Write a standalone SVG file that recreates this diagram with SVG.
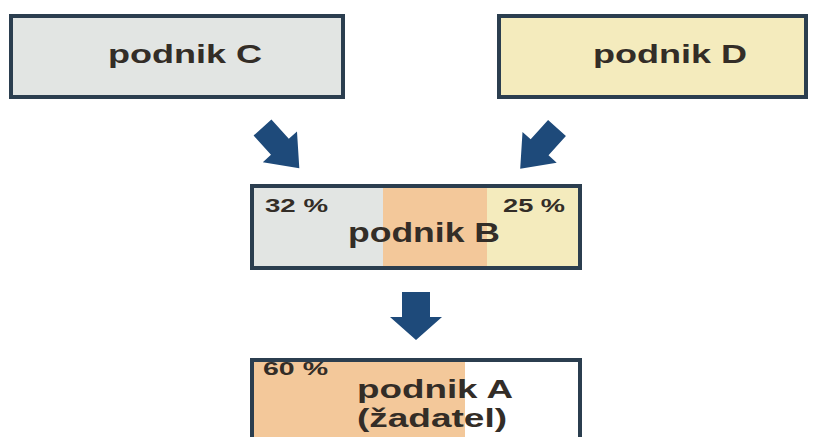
<svg xmlns="http://www.w3.org/2000/svg" width="820" height="437" viewBox="0 0 820 437">
<defs>
<style>
.box{stroke:#2b3e4f;stroke-width:4;}
.t{font-family:"Liberation Sans",Arial,sans-serif;font-weight:bold;fill:#332d27;}
.arrow{fill:#1e4a7a;}
</style>
<path id="diag" d="M-12,0 L12,0 L12,26 L23,26 L0,55 L-23,26 L-12,26 Z"/>
</defs>
<rect width="820" height="437" fill="#ffffff"/>
<g id="nodeC">
<rect class="box" x="11" y="16" width="332" height="81" fill="#e2e5e3"/>
<text class="t" x="108" y="63" font-size="25" textLength="154" lengthAdjust="spacingAndGlyphs">podnik C</text>
</g>
<g id="nodeD">
<rect class="box" x="499" y="16" width="307" height="81" fill="#f4ebbd"/>
<text class="t" x="593" y="63" font-size="25" textLength="154" lengthAdjust="spacingAndGlyphs">podnik D</text>
</g>
<g id="nodeB">
<rect x="252" y="186" width="131" height="82" fill="#e2e5e3"/>
<rect x="383" y="186" width="104" height="82" fill="#f3c89a"/>
<rect x="487" y="186" width="93" height="82" fill="#f4ebbd"/>
<rect class="box" x="252" y="186" width="328" height="82" fill="none"/>
<text class="t" x="265" y="212" font-size="18" textLength="63" lengthAdjust="spacingAndGlyphs">32 %</text>
<text class="t" x="503" y="212" font-size="18" textLength="62" lengthAdjust="spacingAndGlyphs">25 %</text>
<text class="t" x="348" y="242" font-size="27" textLength="152" lengthAdjust="spacingAndGlyphs">podnik B</text>
</g>
<g id="nodeA">
<rect x="252" y="360" width="213" height="90" fill="#f3c89a"/>
<rect x="465" y="360" width="115" height="90" fill="#ffffff"/>
<rect class="box" x="252" y="360" width="328" height="90" fill="none"/>
<text class="t" x="263" y="375" font-size="18" textLength="65" lengthAdjust="spacingAndGlyphs">60 %</text>
<text class="t" x="357" y="398" font-size="25" textLength="156" lengthAdjust="spacingAndGlyphs">podnik A</text>
<text class="t" x="357" y="427" font-size="25" textLength="150" lengthAdjust="spacingAndGlyphs">(žadatel)</text>
</g>
<g id="connectors">
<use href="#diag" class="arrow" transform="translate(262.5,127.5) rotate(-42)"/>
<use href="#diag" class="arrow" transform="translate(557,128) rotate(42)"/>
<path class="arrow" d="M402,292 L430,292 L430,317 L442,317 L416,340 L390,317 L402,317 Z"/>
</g>
</svg>
